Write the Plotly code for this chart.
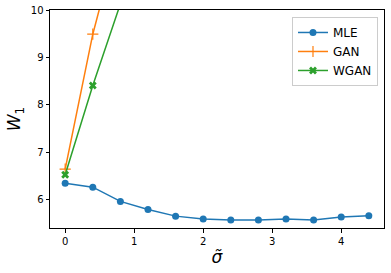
import plotly.graph_objects as go

sigma = [0.0, 0.4, 0.8, 1.2, 1.6, 2.0, 2.4, 2.8, 3.2, 3.6, 4.0, 4.4]
mle = [6.35, 6.27, 5.97, 5.80, 5.66, 5.60, 5.58, 5.58, 5.60, 5.58, 5.64, 5.67]
gan_x = [0.0, 0.4, 0.8]
gan = [6.65, 9.49, 11.7]
wgan_x = [0.0, 0.4, 0.8]
wgan = [6.53, 8.41, 10.13]

fig = go.Figure()
fig.add_trace(go.Scatter(x=sigma, y=mle, name="MLE", mode="lines+markers",
                         line=dict(color="#1f77b4", width=1.5),
                         marker=dict(symbol="circle", size=7, color="#1f77b4")))
fig.add_trace(go.Scatter(x=gan_x, y=gan, name="GAN", mode="lines+markers",
                         line=dict(color="#ff7f0e", width=1.5),
                         marker=dict(symbol="cross-thin", size=8,
                                     line=dict(color="#ff7f0e", width=1.2))))
fig.add_trace(go.Scatter(x=wgan_x, y=wgan, name="WGAN", mode="lines+markers",
                         line=dict(color="#2ca02c", width=1.5),
                         marker=dict(symbol="x", size=7, color="#2ca02c")))

axis_common = dict(showgrid=False, zeroline=False, showline=True, linecolor="black",
                   linewidth=1, mirror=True, ticks="outside", ticklen=3.5,
                   tickcolor="black", automargin=False,
                   tickfont=dict(family="DejaVu Sans", size=10, color="black"))

fig.update_layout(
    width=391, height=273,
    margin=dict(l=50, r=7, t=10, b=45, autoexpand=False),
    paper_bgcolor="white", plot_bgcolor="white",
    showlegend=True,
    legend=dict(x=0.982, y=0.968, xanchor="right", yanchor="top",
                bgcolor="rgba(255,255,255,0.8)", bordercolor="#cccccc", borderwidth=1,
                font=dict(family="DejaVu Sans", size=12, color="black")),
    xaxis=dict(range=[-0.22, 4.62], tickvals=[0, 1, 2, 3, 4],
               title=dict(text="<i>σ̃</i>", font=dict(family="DejaVu Sans", size=17, color="black"), standoff=5),
               **axis_common),
    yaxis=dict(range=[5.41, 10], tickvals=[6, 7, 8, 9, 10],
               title=dict(text="<i>W</i><sub>1</sub>", font=dict(family="DejaVu Sans", size=17, color="black"), standoff=5),
               **axis_common),
)

fig.write_html("out.html", config={"displayModeBar": False},
               post_script="document.body.style.margin='0';")
